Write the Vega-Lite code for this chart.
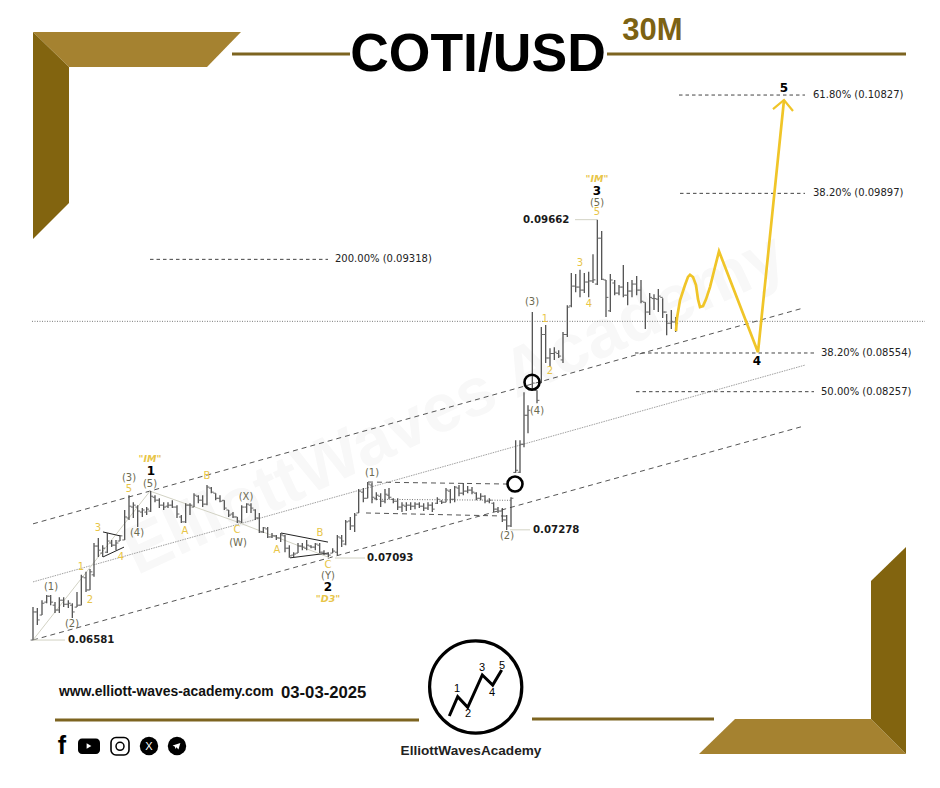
{"$schema":"https://vega.github.io/schema/vega-lite/v6.json","width":940,"height":788,"autosize":{"type":"fit","contains":"padding"},"padding":0,"background":"#ffffff","config":{"view":{"stroke":null}},
"datasets":{"bars":[
{"t":33,"h":0.06782,"l":0.06581,"o":0.06581,"c":0.06752},{"t":37.3,"h":0.06776,"l":0.06672,"o":0.06752,"c":0.06703},{"t":42,"h":0.06825,"l":0.06733,"o":0.06733,"c":0.06806},{"t":46.7,"h":0.06857,"l":0.06806,"o":0.06813,"c":0.0685},{"t":50.7,"h":0.06857,"l":0.06794,"o":0.0685,"c":0.06813},{"t":55,"h":0.06813,"l":0.06746,"o":0.06794,"c":0.06764},{"t":59.3,"h":0.06844,"l":0.06746,"o":0.06764,"c":0.06825},{"t":63.7,"h":0.06844,"l":0.06782,"o":0.06825,"c":0.068},{"t":68.3,"h":0.06825,"l":0.06776,"o":0.068,"c":0.06806},{"t":72.3,"h":0.06806,"l":0.06715,"o":0.06794,"c":0.06752},{"t":77,"h":0.06876,"l":0.06782,"o":0.06782,"c":0.06794},{"t":81.3,"h":0.06985,"l":0.06794,"o":0.06794,"c":0.06972},{"t":86,"h":0.07004,"l":0.06876,"o":0.06966,"c":0.06889},{"t":90,"h":0.07023,"l":0.06889,"o":0.06889,"c":0.07004},{"t":94,"h":0.07191,"l":0.06972,"o":0.06985,"c":0.07171},{"t":98.3,"h":0.07224,"l":0.071,"o":0.07171,"c":0.07144},{"t":102.7,"h":0.07177,"l":0.071,"o":0.07125,"c":0.07157},{"t":107.3,"h":0.07257,"l":0.07125,"o":0.07131,"c":0.07204},{"t":111.7,"h":0.07211,"l":0.07164,"o":0.07191,"c":0.07177},{"t":116,"h":0.07211,"l":0.07144,"o":0.07177,"c":0.07191},{"t":120,"h":0.07244,"l":0.07204,"o":0.07204,"c":0.07238},{"t":124.7,"h":0.07411,"l":0.07211,"o":0.07211,"c":0.07364},{"t":129,"h":0.07512,"l":0.07344,"o":0.07357,"c":0.07437},{"t":133.3,"h":0.07464,"l":0.07357,"o":0.07431,"c":0.07444},{"t":137.7,"h":0.07444,"l":0.07297,"o":0.07431,"c":0.07404},{"t":142.3,"h":0.07424,"l":0.07364,"o":0.07397,"c":0.07411},{"t":146.7,"h":0.07431,"l":0.07377,"o":0.07397,"c":0.07417},{"t":150.7,"h":0.0754,"l":0.07397,"o":0.07404,"c":0.07505},{"t":155,"h":0.07512,"l":0.07464,"o":0.07498,"c":0.07478},{"t":159.3,"h":0.07491,"l":0.07424,"o":0.07478,"c":0.07444},{"t":163.7,"h":0.07464,"l":0.07411,"o":0.07444,"c":0.07431},{"t":168,"h":0.07464,"l":0.07424,"o":0.07437,"c":0.07444},{"t":172.3,"h":0.07477,"l":0.07424,"o":0.07444,"c":0.07431},{"t":177,"h":0.07444,"l":0.07357,"o":0.07431,"c":0.07384},{"t":181.3,"h":0.07377,"l":0.07324,"o":0.07364,"c":0.07331},{"t":185.7,"h":0.07457,"l":0.07324,"o":0.07331,"c":0.07444},{"t":190,"h":0.07457,"l":0.07377,"o":0.07444,"c":0.07444},{"t":194,"h":0.07526,"l":0.07431,"o":0.07431,"c":0.07512},{"t":198.3,"h":0.07512,"l":0.07457,"o":0.07505,"c":0.07478},{"t":202.7,"h":0.07512,"l":0.07431,"o":0.07478,"c":0.07451},{"t":207,"h":0.07582,"l":0.07444,"o":0.07451,"c":0.07568},{"t":211.3,"h":0.07568,"l":0.07526,"o":0.07561,"c":0.07533},{"t":215.7,"h":0.07526,"l":0.07477,"o":0.07526,"c":0.07491},{"t":220,"h":0.07512,"l":0.07464,"o":0.07491,"c":0.07471},{"t":224.3,"h":0.07477,"l":0.07411,"o":0.07477,"c":0.07424},{"t":228.7,"h":0.07411,"l":0.07364,"o":0.07411,"c":0.07377},{"t":233,"h":0.07397,"l":0.07357,"o":0.07384,"c":0.07364},{"t":237.3,"h":0.07364,"l":0.07324,"o":0.07364,"c":0.07337},{"t":241.7,"h":0.07444,"l":0.07324,"o":0.07331,"c":0.07431},{"t":246.7,"h":0.07457,"l":0.07391,"o":0.07431,"c":0.07451},{"t":251,"h":0.07457,"l":0.07391,"o":0.07444,"c":0.07424},{"t":255.3,"h":0.07417,"l":0.07344,"o":0.07411,"c":0.07357},{"t":259.3,"h":0.07391,"l":0.07257,"o":0.07357,"c":0.07264},{"t":263.3,"h":0.07297,"l":0.07257,"o":0.07264,"c":0.07291},{"t":267.7,"h":0.07297,"l":0.07224,"o":0.07284,"c":0.07231},{"t":272,"h":0.07257,"l":0.07224,"o":0.07231,"c":0.07238},{"t":276.3,"h":0.07244,"l":0.07211,"o":0.07238,"c":0.07224},{"t":280.7,"h":0.07257,"l":0.07197,"o":0.07224,"c":0.07244},{"t":285,"h":0.07244,"l":0.07131,"o":0.07238,"c":0.07157},{"t":289.3,"h":0.07177,"l":0.07094,"o":0.07157,"c":0.07107},{"t":293.7,"h":0.07131,"l":0.071,"o":0.07112,"c":0.07119},{"t":298,"h":0.07191,"l":0.07125,"o":0.07125,"c":0.07171},{"t":302.3,"h":0.07191,"l":0.07144,"o":0.07171,"c":0.07164},{"t":306.7,"h":0.07211,"l":0.07144,"o":0.07157,"c":0.07177},{"t":311,"h":0.07177,"l":0.07157,"o":0.07171,"c":0.07164},{"t":315.3,"h":0.07191,"l":0.07144,"o":0.07164,"c":0.07184},{"t":319.7,"h":0.07191,"l":0.07125,"o":0.07177,"c":0.07131},{"t":324,"h":0.07144,"l":0.07112,"o":0.07131,"c":0.07119},{"t":328.3,"h":0.07131,"l":0.071,"o":0.07119,"c":0.07112},{"t":332.7,"h":0.07157,"l":0.07125,"o":0.07125,"c":0.07138},{"t":337.3,"h":0.07244,"l":0.07112,"o":0.07131,"c":0.07231},{"t":341.7,"h":0.07244,"l":0.07164,"o":0.07224,"c":0.07204},{"t":345.7,"h":0.07344,"l":0.07177,"o":0.07184,"c":0.07331},{"t":350.3,"h":0.07364,"l":0.07277,"o":0.07337,"c":0.07304},{"t":354.7,"h":0.07391,"l":0.07264,"o":0.07304,"c":0.07377},{"t":358.7,"h":0.07554,"l":0.07391,"o":0.07391,"c":0.0754},{"t":363.3,"h":0.07561,"l":0.07464,"o":0.07533,"c":0.07491},{"t":367.7,"h":0.07603,"l":0.07491,"o":0.07491,"c":0.07589},{"t":372,"h":0.07596,"l":0.07457,"o":0.07582,"c":0.07498},{"t":376.3,"h":0.07533,"l":0.07477,"o":0.07491,"c":0.07512},{"t":380.7,"h":0.07526,"l":0.07431,"o":0.07505,"c":0.07471},{"t":385,"h":0.07554,"l":0.07457,"o":0.07471,"c":0.07519},{"t":389,"h":0.07561,"l":0.07484,"o":0.07512,"c":0.07498},{"t":393.3,"h":0.07491,"l":0.07457,"o":0.07484,"c":0.07471},{"t":397.7,"h":0.07491,"l":0.07411,"o":0.07471,"c":0.07431},{"t":402,"h":0.07464,"l":0.07397,"o":0.07431,"c":0.07444},{"t":406.3,"h":0.07464,"l":0.07404,"o":0.07437,"c":0.07444},{"t":410.7,"h":0.07464,"l":0.07411,"o":0.07444,"c":0.07437},{"t":415,"h":0.07464,"l":0.07417,"o":0.07437,"c":0.07451},{"t":419.3,"h":0.07464,"l":0.07424,"o":0.07451,"c":0.07437},{"t":423.7,"h":0.07457,"l":0.07404,"o":0.07437,"c":0.07424},{"t":428,"h":0.07464,"l":0.07411,"o":0.07424,"c":0.07444},{"t":432.3,"h":0.07464,"l":0.07397,"o":0.07444,"c":0.07417},{"t":437.3,"h":0.07498,"l":0.07451,"o":0.07457,"c":0.07484},{"t":441.7,"h":0.07477,"l":0.07451,"o":0.07471,"c":0.07464},{"t":446,"h":0.07561,"l":0.07464,"o":0.07464,"c":0.07547},{"t":450.3,"h":0.07554,"l":0.07457,"o":0.0754,"c":0.07484},{"t":454.7,"h":0.07575,"l":0.07464,"o":0.07484,"c":0.07568},{"t":459,"h":0.07582,"l":0.07505,"o":0.07561,"c":0.07526},{"t":463.3,"h":0.07596,"l":0.07512,"o":0.07526,"c":0.0754},{"t":467.7,"h":0.07575,"l":0.07526,"o":0.0754,"c":0.07547},{"t":472,"h":0.07568,"l":0.07519,"o":0.07547,"c":0.07533},{"t":476.3,"h":0.07533,"l":0.07477,"o":0.07526,"c":0.07491},{"t":480.7,"h":0.07526,"l":0.07477,"o":0.07491,"c":0.07505},{"t":485,"h":0.07512,"l":0.07457,"o":0.07505,"c":0.07471},{"t":489.3,"h":0.07491,"l":0.07457,"o":0.07471,"c":0.07478},{"t":493.7,"h":0.07464,"l":0.07397,"o":0.07457,"c":0.07417},{"t":498,"h":0.07431,"l":0.07391,"o":0.07417,"c":0.07404},{"t":502.3,"h":0.07424,"l":0.07331,"o":0.07404,"c":0.07344},{"t":506.7,"h":0.07377,"l":0.07277,"o":0.07344,"c":0.07304},{"t":511,"h":0.07498,"l":0.07297,"o":0.07304,"c":0.07491},{"t":515.7,"h":0.07899,"l":0.07666,"o":0.0767,"c":0.07685},{"t":520,"h":0.07899,"l":0.07666,"o":0.07671,"c":0.0787},{"t":524,"h":0.08253,"l":0.07848,"o":0.0787,"c":0.08081},{"t":528,"h":0.08155,"l":0.0795,"o":0.08081,"c":0.08118},{"t":532.3,"h":0.0888,"l":0.08268,"o":0.0828,"c":0.08322},{"t":537,"h":0.08268,"l":0.0817,"o":0.08268,"c":0.08192},{"t":541.3,"h":0.0876,"l":0.08322,"o":0.08322,"c":0.087},{"t":545.7,"h":0.08776,"l":0.08476,"o":0.087,"c":0.08515},{"t":550,"h":0.08591,"l":0.08445,"o":0.08515,"c":0.0855},{"t":554.3,"h":0.08599,"l":0.08499,"o":0.0855,"c":0.0856},{"t":558.7,"h":0.08575,"l":0.08515,"o":0.0855,"c":0.0853},{"t":563,"h":0.08719,"l":0.08476,"o":0.085,"c":0.087},{"t":567.3,"h":0.08936,"l":0.08679,"o":0.087,"c":0.0892},{"t":571.3,"h":0.09203,"l":0.0892,"o":0.0893,"c":0.09093},{"t":575.7,"h":0.09195,"l":0.09043,"o":0.09093,"c":0.09085},{"t":580,"h":0.09229,"l":0.09001,"o":0.09085,"c":0.0906},{"t":584.3,"h":0.09203,"l":0.09035,"o":0.0906,"c":0.09127},{"t":588.7,"h":0.09212,"l":0.09001,"o":0.09127,"c":0.09136},{"t":593,"h":0.09362,"l":0.09119,"o":0.09136,"c":0.09145},{"t":597.3,"h":0.09662,"l":0.09102,"o":0.0911,"c":0.095},{"t":601.7,"h":0.09563,"l":0.09144,"o":0.095,"c":0.0915},{"t":606,"h":0.09144,"l":0.0884,"o":0.09144,"c":0.09},{"t":610.3,"h":0.09195,"l":0.0888,"o":0.0889,"c":0.09144},{"t":614.7,"h":0.09144,"l":0.09018,"o":0.09119,"c":0.09035},{"t":619,"h":0.09102,"l":0.09018,"o":0.09035,"c":0.09085},{"t":623.3,"h":0.0927,"l":0.09001,"o":0.09085,"c":0.09018},{"t":627.7,"h":0.09127,"l":0.08936,"o":0.09018,"c":0.09052},{"t":632,"h":0.09144,"l":0.09001,"o":0.09052,"c":0.0911},{"t":636.7,"h":0.09178,"l":0.09018,"o":0.0911,"c":0.0906},{"t":641,"h":0.09144,"l":0.08952,"o":0.0906,"c":0.08968},{"t":645.3,"h":0.0896,"l":0.08744,"o":0.0896,"c":0.0888},{"t":649.7,"h":0.09035,"l":0.08856,"o":0.0888,"c":0.09},{"t":654,"h":0.09026,"l":0.08896,"o":0.0899,"c":0.0899},{"t":658.3,"h":0.09068,"l":0.0888,"o":0.08985,"c":0.0901},{"t":662.7,"h":0.08993,"l":0.08832,"o":0.09,"c":0.0888},{"t":666.7,"h":0.08864,"l":0.08694,"o":0.0888,"c":0.0879},{"t":671.3,"h":0.08896,"l":0.08744,"o":0.0879,"c":0.088},{"t":675.7,"h":0.0884,"l":0.08719,"o":0.088,"c":0.0879}
]},
"layer":[
{"encoding":{"x":{"field":"t","type":"quantitative","scale":{"domain":[0,940],"nice":false,"zero":false},"axis":null},"y":{"field":"y","type":"quantitative","scale":{"domain":[0,788],"reverse":true,"nice":false,"zero":false},"axis":null}},
"layer":[
{"data":{"values":[{"t":33,"y":32,"y2":32},{"t":69,"y":32,"y2":67},{"t":207,"y":32,"y2":67},{"t":241,"y":32,"y2":32}]},"mark":{"type":"area","color":"#a58230"},"encoding":{"y2":{"field":"y2"}}},
{"data":{"values":[{"t":33,"y":32,"y2":239},{"t":69,"y":67,"y2":203}]},"mark":{"type":"area","color":"#82640f"},"encoding":{"y2":{"field":"y2"}}},
{"data":{"values":[{"t":699,"y":754,"y2":754},{"t":735,"y":719,"y2":754},{"t":871,"y":719,"y2":754},{"t":906,"y":754,"y2":754}]},"mark":{"type":"area","color":"#a58230"},"encoding":{"y2":{"field":"y2"}}},
{"data":{"values":[{"t":871,"y":581,"y2":719},{"t":906,"y":547,"y2":754}]},"mark":{"type":"area","color":"#82640f"},"encoding":{"y2":{"field":"y2"}}},
{"data":{"values":[{"t":232,"y":54,"id":"a"},{"t":350,"y":54,"id":"a"},{"t":607,"y":54,"id":"b"},{"t":906,"y":54,"id":"b"},{"t":55,"y":720,"id":"c"},{"t":419,"y":720,"id":"c"},{"t":532,"y":719,"id":"d"},{"t":714,"y":719,"id":"d"}]},"mark":{"type":"line","color":"#7d6420","strokeWidth":2.8},"encoding":{"detail":{"field":"id"}}},
{"data":{"values":[{"t":455,"y":405,"label":"ElliottWaves Academy"}]},"mark":{"type":"text","font":"Liberation Sans","fontWeight":"bold","fontSize":68,"color":"#f8f8f8","angle":335,"align":"center","baseline":"middle"},"encoding":{"text":{"field":"label"}}},
{"data":{"values":[{"t":478,"y":55,"label":"COTI/USD"}]},"mark":{"type":"text","font":"Liberation Sans","fontWeight":"bold","fontSize":53.5,"color":"#000000","align":"center","baseline":"middle"},"encoding":{"text":{"field":"label"}}},
{"data":{"values":[{"t":652.5,"y":31,"label":"30M"}]},"mark":{"type":"text","font":"Liberation Sans","fontWeight":"bold","fontSize":31,"color":"#7c6213","align":"center","baseline":"middle"},"encoding":{"text":{"field":"label"}}},
{"data":{"values":[{"t":59,"y":692,"label":"www.elliott-waves-academy.com"}]},"mark":{"type":"text","font":"Liberation Sans","fontWeight":"bold","fontSize":13.9,"color":"#111111","align":"left","baseline":"middle"},"encoding":{"text":{"field":"label"}}},
{"data":{"values":[{"t":281,"y":693,"label":"03-03-2025"}]},"mark":{"type":"text","font":"Liberation Sans","fontWeight":"bold","fontSize":16.7,"color":"#111111","align":"left","baseline":"middle"},"encoding":{"text":{"field":"label"}}},
{"data":{"values":[{"t":471,"y":751,"label":"ElliottWavesAcademy"}]},"mark":{"type":"text","font":"Liberation Sans","fontWeight":"bold","fontSize":13.6,"color":"#222222","align":"center","baseline":"middle"},"encoding":{"text":{"field":"label"}}},
{"data":{"values":[{"t":475.7,"y":687}]},"mark":{"type":"point","shape":"circle","size":8500,"filled":false,"color":"#000000","strokeWidth":3.2,"opacity":1}},
{"data":{"values":[{"t":449.3,"y":716},{"t":457.7,"y":696.7},{"t":467.7,"y":707.3},{"t":482.3,"y":675},{"t":492.7,"y":685},{"t":501.7,"y":670}]},"mark":{"type":"line","color":"#000000","strokeWidth":3}},
{"data":{"values":[{"t":457,"y":689,"label":"1"},{"t":468,"y":714,"label":"2"},{"t":482,"y":668,"label":"3"},{"t":492,"y":693,"label":"4"},{"t":502,"y":666,"label":"5"}]},"mark":{"type":"text","font":"Liberation Sans","fontSize":11,"color":"#000000","align":"center","baseline":"middle"},"encoding":{"text":{"field":"label"}}},
{"data":{"values":[{"t":62,"y":746,"label":"f"}]},"mark":{"type":"text","font":"Liberation Sans","fontWeight":"bold","fontSize":25,"color":"#000000","align":"center","baseline":"middle"},"encoding":{"text":{"field":"label"}}},
{"data":{"values":[{"t":78,"t2":100,"y":738.5,"y2":754}]},"mark":{"type":"rect","color":"#000000","cornerRadius":4},"encoding":{"x2":{"field":"t2"},"y2":{"field":"y2"}}},
{"data":{"values":[{"t":89,"y":746}]},"mark":{"type":"point","shape":"triangle-right","size":30,"filled":true,"color":"#ffffff","opacity":1}},
{"data":{"values":[{"t":111,"t2":129,"y":737.5,"y2":755}]},"mark":{"type":"rect","fill":null,"stroke":"#000000","strokeWidth":1.6,"cornerRadius":5},"encoding":{"x2":{"field":"t2"},"y2":{"field":"y2"}}},
{"data":{"values":[{"t":120,"y":746.3}]},"mark":{"type":"point","shape":"circle","size":64,"filled":false,"color":"#000000","strokeWidth":1.5,"opacity":1}},
{"data":{"values":[{"t":149,"y":746},{"t":177,"y":746}]},"mark":{"type":"point","shape":"circle","size":340,"filled":true,"color":"#000000","opacity":1}},
{"data":{"values":[{"t":149,"y":746.5,"label":"X"}]},"mark":{"type":"text","font":"Liberation Sans","fontSize":11,"color":"#ffffff","align":"center","baseline":"middle"},"encoding":{"text":{"field":"label"}}},
{"data":{"values":[{"t":176.5,"y":746}]},"mark":{"type":"point","shape":"M-1,-0.1 L1,-0.8 L0.5,0.9 L0,0.3 L-0.3,0.8 L-0.4,0.2 Z","size":60,"filled":true,"color":"#ffffff","opacity":1}}
]},
{"encoding":{"x":{"field":"t","type":"quantitative","scale":{"domain":[0,940],"nice":false,"zero":false},"axis":null},"y":{"field":"p","type":"quantitative","scale":{"type":"log","domain":[0.05749,0.11809],"nice":false,"zero":false},"axis":null}},
"layer":[
{"data":{"values":[{"t":32,"p":0.08805},{"t":925,"p":0.08805}]},"mark":{"type":"line","color":"#777777","strokeWidth":1,"strokeDash":[1,1.5]}},
{"data":{"values":[{"t":33,"p":0.07318,"id":"u"},{"t":803,"p":0.08912,"id":"u"},{"t":33,"p":0.06581,"id":"d"},{"t":803,"p":0.08,"id":"d"},{"t":368,"p":0.07603,"id":"a"},{"t":507,"p":0.07589,"id":"a"},{"t":366,"p":0.07391,"id":"b"},{"t":507,"p":0.0737,"id":"b"}]},"mark":{"type":"line","color":"#555555","strokeWidth":1,"strokeDash":[5,4]},"encoding":{"detail":{"field":"id"}}},
{"data":{"values":[{"t":33,"p":0.0694},{"t":805,"p":0.0846}]},"mark":{"type":"line","color":"#a0a0a0","strokeWidth":1,"strokeDash":[1.5,1]}},
{"data":{"values":[{"t":372,"p":0.07484},{"t":512,"p":0.07477}]},"mark":{"type":"line","color":"#777777","strokeWidth":1,"strokeDash":[1,1.5]}},
{"data":{"values":[{"t":33,"p":0.06581,"id":"a"},{"t":150,"p":0.0754,"id":"a"},{"t":150,"p":0.0754,"id":"b"},{"t":237,"p":0.07331,"id":"b"},{"t":330,"p":0.07094,"id":"b"},{"t":33,"p":0.06581,"id":"c"},{"t":65,"p":0.06581,"id":"c"},{"t":335,"p":0.07093,"id":"d"},{"t":365,"p":0.07093,"id":"d"},{"t":510,"p":0.07278,"id":"e"},{"t":530,"p":0.07278,"id":"e"},{"t":575,"p":0.09662,"id":"f"},{"t":597,"p":0.09662,"id":"f"}]},"mark":{"type":"line","color":"#d2d2c4","strokeWidth":1},"encoding":{"detail":{"field":"id"}}},
{"data":{"values":[{"t":150,"p":0.09318,"id":"a"},{"t":328,"p":0.09318,"id":"a"},{"t":679,"p":0.10827,"id":"b"},{"t":805,"p":0.10827,"id":"b"},{"t":680,"p":0.09897,"id":"c"},{"t":805,"p":0.09897,"id":"c"},{"t":635,"p":0.08554,"id":"d"},{"t":814,"p":0.08554,"id":"d"},{"t":636,"p":0.08257,"id":"e"},{"t":814,"p":0.08257,"id":"e"}]},"mark":{"type":"line","color":"#444444","strokeWidth":1,"strokeDash":[3.5,3]},"encoding":{"detail":{"field":"id"}}},
{"data":{"values":[{"t":103,"p":0.07264,"id":"a"},{"t":120,"p":0.07238,"id":"a"},{"t":103,"p":0.071,"id":"b"},{"t":124,"p":0.07164,"id":"b"},{"t":281,"p":0.07257,"id":"c"},{"t":328,"p":0.07197,"id":"c"},{"t":290,"p":0.07094,"id":"d"},{"t":328,"p":0.07125,"id":"d"}]},"mark":{"type":"line","color":"#222222","strokeWidth":1},"encoding":{"detail":{"field":"id"}}},
{"data":{"name":"bars"},"mark":{"type":"rule","color":"#444444","strokeWidth":1.2},"encoding":{"y":{"field":"h","type":"quantitative"},"y2":{"field":"l"}}},
{"data":{"name":"bars"},"mark":{"type":"tick","orient":"horizontal","size":2.4,"thickness":1,"color":"#666666","xOffset":-1.2,"opacity":1},"encoding":{"y":{"field":"o","type":"quantitative"}}},
{"data":{"name":"bars"},"mark":{"type":"tick","orient":"horizontal","size":2.4,"thickness":1,"color":"#666666","xOffset":1.2,"opacity":1},"encoding":{"y":{"field":"c","type":"quantitative"}}},
{"data":{"values":[{"t":515,"p":0.07589},{"t":532,"p":0.08329}]},"mark":{"type":"point","shape":"circle","size":225,"filled":false,"color":"#000000","strokeWidth":2.6,"opacity":1}},
{"data":{"values":[{"t":676,"p":0.08727},{"t":677,"p":0.08832},{"t":680,"p":0.08976},{"t":685,"p":0.09102},{"t":688,"p":0.0917},{"t":690,"p":0.09187},{"t":693,"p":0.09169},{"t":696,"p":0.09102},{"t":698,"p":0.08985},{"t":700,"p":0.0892},{"t":703,"p":0.08928},{"t":706,"p":0.08984},{"t":710,"p":0.09085},{"t":715,"p":0.09253},{"t":719,"p":0.09387},{"t":758,"p":0.0856},{"t":784,"p":0.10778}]},"mark":{"type":"line","color":"#f0c528","strokeWidth":2.7}},
{"data":{"values":[{"t":773,"p":0.10689},{"t":784,"p":0.10778},{"t":793,"p":0.1067}]},"mark":{"type":"line","color":"#f0c528","strokeWidth":2.2}},
{"data":{"values":[{"t":813,"p":0.10827,"label":"61.80% (0.10827)"},{"t":813,"p":0.09897,"label":"38.20% (0.09897)"},{"t":821,"p":0.08554,"label":"38.20% (0.08554)"},{"t":821,"p":0.08257,"label":"50.00% (0.08257)"},{"t":335,"p":0.09318,"label":"200.00% (0.09318)"}]},"mark":{"type":"text","font":"DejaVu Sans","fontSize":10,"color":"#222222","align":"left","baseline":"middle"},"encoding":{"text":{"field":"label"}}},
{"data":{"values":[{"t":68,"p":0.06581,"label":"0.06581"},{"t":367,"p":0.07093,"label":"0.07093"},{"t":533,"p":0.07278,"label":"0.07278"},{"t":523,"p":0.09662,"label":"0.09662"}]},"mark":{"type":"text","font":"DejaVu Sans","fontWeight":"bold","fontSize":10.2,"color":"#1a1a1a","align":"left","baseline":"middle"},"encoding":{"text":{"field":"label"}}},
{"data":{"values":[{"t":129,"p":0.07554,"label":"5"},{"t":98,"p":0.07291,"label":"3"},{"t":121,"p":0.071,"label":"4"},{"t":81,"p":0.07036,"label":"1"},{"t":90,"p":0.06825,"label":"2"},{"t":185,"p":0.0727,"label":"A"},{"t":207,"p":0.07645,"label":"B"},{"t":237,"p":0.07277,"label":"C"},{"t":277,"p":0.07144,"label":"A"},{"t":320,"p":0.07257,"label":"B"},{"t":328,"p":0.07049,"label":"C"},{"t":597,"p":0.09729,"label":"5"},{"t":580,"p":0.09287,"label":"3"},{"t":589,"p":0.08944,"label":"4"},{"t":545,"p":0.08825,"label":"1"},{"t":550,"p":0.08412,"label":"2"}]},"mark":{"type":"text","font":"DejaVu Sans","fontSize":10,"color":"#e8c547","align":"center","baseline":"middle"},"encoding":{"text":{"field":"label"}}},
{"data":{"values":[{"t":150,"p":0.07763,"label":"\"IM\""},{"t":328,"p":0.06831,"label":"\"D3\""},{"t":597,"p":0.10029,"label":"\"IM\""}]},"mark":{"type":"text","font":"DejaVu Sans","fontStyle":"italic","fontWeight":"bold","fontSize":9.5,"color":"#e8c547","align":"center","baseline":"middle"},"encoding":{"text":{"field":"label"}}},
{"data":{"values":[{"t":150,"p":0.07589,"label":"(5)"},{"t":129,"p":0.07631,"label":"(3)"},{"t":51,"p":0.06908,"label":"(1)"},{"t":72,"p":0.06678,"label":"(2)"},{"t":137,"p":0.07257,"label":"(4)"},{"t":238,"p":0.07191,"label":"(W)"},{"t":246,"p":0.07498,"label":"(X)"},{"t":328,"p":0.06979,"label":"(Y)"},{"t":372,"p":0.07664,"label":"(1)"},{"t":507,"p":0.07238,"label":"(2)"},{"t":597,"p":0.0981,"label":"(5)"},{"t":532,"p":0.0896,"label":"(3)"},{"t":537,"p":0.08111,"label":"(4)"}]},"mark":{"type":"text","font":"DejaVu Sans","fontSize":10,"color":"#6b6a4f","align":"center","baseline":"middle"},"encoding":{"text":{"field":"label"}}},
{"data":{"values":[{"t":151,"p":0.07678,"label":"1"},{"t":328,"p":0.06908,"label":"2"},{"t":597,"p":0.09918,"label":"3"},{"t":757,"p":0.0849,"label":"4"},{"t":784,"p":0.10896,"label":"5"}]},"mark":{"type":"text","font":"DejaVu Sans","fontWeight":"bold","fontSize":12,"color":"#000000","align":"center","baseline":"middle"},"encoding":{"text":{"field":"label"}}}
]}
],
"resolve":{"scale":{"y":"independent"}}}
